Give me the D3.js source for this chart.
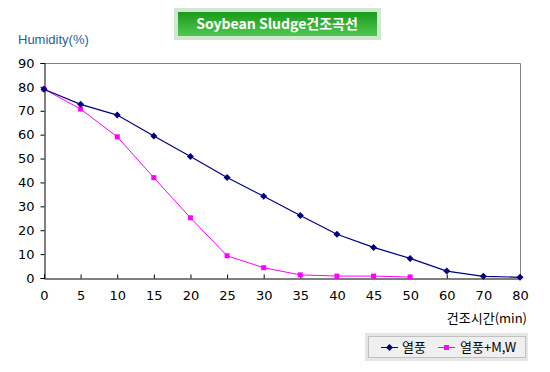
<!DOCTYPE html>
<html>
<head>
<meta charset="utf-8">
<script src="https://cdn.jsdelivr.net/npm/d3@7"></script>
<style>
  body { margin: 0; background: #fff; }
  svg text { font-family: "Liberation Sans", "Noto Sans CJK KR", sans-serif; }
</style>
</head>
<body>
<div id="chart"></div>
<script>
// drying time categories (min)
var times = ["0", "5", "10", "15", "20", "25", "30", "35", "40", "45", "50", "60", "70", "80"];
// 열풍
var hotAir = [79, 72.7, 68.2, 59.4, 50.9, 42.1, 34.2, 26.2, 18.3, 12.8, 8.2, 2.9, 0.7, 0.3];
// 열풍+M,W (stops at 50 min)
var hotAirMW = [79.1, 70.7, 59.1, 42, 25.2, 9.3, 4.3, 1.3, 0.8, 0.8, 0.4];
var yTicks = [0, 10, 20, 30, 40, 50, 60, 70, 80, 90];

var width = 550, height = 372;
var svg = d3.select("#chart").append("svg")
    .attr("width", width)
    .attr("height", height);

var x = d3.scalePoint().domain(times).range([44, 520]);
var y = d3.scaleLinear().domain([0, 90]).range([278, 63]);

// title box
var defs = svg.append("defs");
var grad = defs.append("linearGradient").attr("id", "tg")
    .attr("x1", 0).attr("y1", 0).attr("x2", 0).attr("y2", 1);
grad.append("stop").attr("offset", "0%").attr("stop-color", "#1a9a1a");
grad.append("stop").attr("offset", "100%").attr("stop-color", "#50c850");

svg.append("rect")
    .attr("x", 174).attr("y", 8).attr("width", 207).attr("height", 32)
    .attr("fill", "#cfe8cf");
svg.append("rect")
    .attr("x", 178).attr("y", 12).attr("width", 199).attr("height", 24)
    .attr("fill", "url(#tg)");
svg.append("text")
    .attr("x", 277).attr("y", 29)
    .attr("text-anchor", "middle")
    .attr("fill", "#fff")
    .attr("font-weight", "bold")
    .style("font-size", "14px")
    .style("font-family", "'Noto Sans CJK KR', sans-serif")
    .text("Soybean Sludge건조곡선");

// y axis title
svg.append("text")
    .attr("x", 18).attr("y", 44)
    .attr("fill", "#1f5f9f")
    .style("font-size", "13px")
    .text("Humidity(%)");

// plot frame (top / right in gray)
svg.append("path")
    .attr("d", "M44,63.5H520.5V278")
    .attr("fill", "none")
    .attr("stroke", "#808080");

// y axis
var yAxis = svg.append("g")
    .attr("transform", "translate(44.5,0)")
    .call(d3.axisLeft(y).tickValues(yTicks).tickSize(4).tickPadding(6));
yAxis.select(".domain").attr("stroke", "#000");
yAxis.selectAll(".tick line").attr("stroke", "#000");
yAxis.selectAll("text").style("font-size", "13px").attr("fill", "#000")
    .style("font-family", "'DejaVu Sans', sans-serif").attr("font-size", null);

// x axis, ticks pointing up into the plot
var xAxis = svg.append("g")
    .attr("transform", "translate(0,278.5)")
    .call(d3.axisBottom(x).tickSize(-4).tickPadding(12));
xAxis.select(".domain").attr("stroke", "#000");
xAxis.selectAll(".tick line").attr("stroke", "#000");
xAxis.selectAll("text").style("font-size", "13px").attr("fill", "#000")
    .style("font-family", "'DejaVu Sans', sans-serif").attr("font-size", null);

// x axis title
svg.append("text")
    .attr("x", 527).attr("y", 323)
    .attr("text-anchor", "end")
    .style("font-size", "13px")
    .style("font-family", "'Noto Sans CJK KR', sans-serif")
    .text("건조시간(min)");

var line = d3.line()
    .x(function (d, i) { return x(times[i]); })
    .y(function (d) { return y(d); });

function diamond(g, cx, cy, color) {
    g.append("path")
        .attr("d", "M" + cx + "," + (cy - 3.5) + "L" + (cx + 3.5) + "," + cy + "L" + cx + "," + (cy + 3.5) + "L" + (cx - 3.5) + "," + cy + "Z")
        .attr("fill", color);
}
function square(g, cx, cy, color) {
    g.append("rect")
        .attr("x", cx - 2.5).attr("y", cy - 2.5)
        .attr("width", 5).attr("height", 5)
        .attr("fill", color);
}

// series 열풍+M,W
svg.append("path").datum(hotAirMW)
    .attr("d", line)
    .attr("fill", "none")
    .attr("stroke", "#ff00ff")
    .attr("stroke-width", 1);
var gm = svg.append("g");
hotAirMW.forEach(function (v, i) { square(gm, x(times[i]), y(v), "#ff00ff"); });

// series 열풍
svg.append("path").datum(hotAir)
    .attr("d", line)
    .attr("fill", "none")
    .attr("stroke", "#000080")
    .attr("stroke-width", 1.2);
var gb = svg.append("g");
hotAir.forEach(function (v, i) { diamond(gb, x(times[i]), y(v), "#000080"); });

// legend
var lg = svg.append("g");
lg.append("rect")
    .attr("x", 365).attr("y", 333).attr("width", 163).attr("height", 28)
    .attr("fill", "#e6e6e6");
lg.append("rect")
    .attr("x", 368.5).attr("y", 336.5).attr("width", 157).attr("height", 21)
    .attr("fill", "#efefef")
    .attr("stroke", "#c0c0c0");

lg.append("line").attr("x1", 381).attr("x2", 398).attr("y1", 347.5).attr("y2", 347.5)
    .attr("stroke", "#000080");
diamond(lg, 389.5, 347.5, "#000080");
lg.append("text").attr("x", 402).attr("y", 352)
    .style("font-size", "13px")
    .style("font-family", "'Noto Sans CJK KR', sans-serif")
    .text("열풍");

lg.append("line").attr("x1", 438).attr("x2", 455).attr("y1", 347.5).attr("y2", 347.5)
    .attr("stroke", "#ff00ff");
square(lg, 446.5, 347.5, "#ff00ff");
lg.append("text").attr("x", 460).attr("y", 352)
    .style("font-size", "13px")
    .style("font-family", "'Noto Sans CJK KR', sans-serif")
    .text("열풍+M,W");
</script>
</body>
</html>
